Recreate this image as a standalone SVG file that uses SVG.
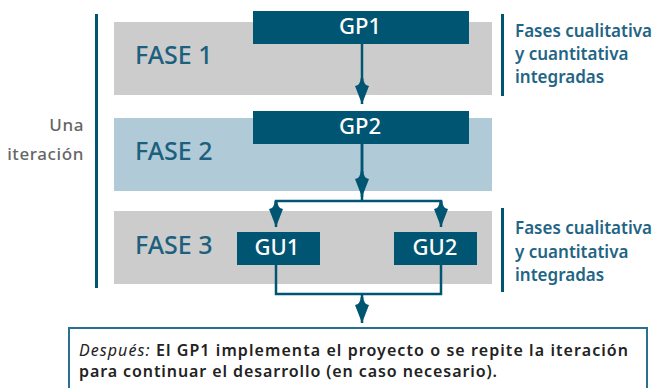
<svg xmlns="http://www.w3.org/2000/svg" width="659" height="388" viewBox="0 0 659 388">
  <style>
    .band-gray { fill: #cccccc; }
    .band-blue { fill: #b0cad7; }
    .box { fill: #005573; }
    .box-label { font-family: "Noto Sans", "DejaVu Sans", sans-serif; font-size: 22px; font-weight: 500; fill: #ffffff; text-anchor: middle; }
    .phase { font-family: "Noto Sans", "DejaVu Sans", sans-serif; font-size: 25px; font-weight: 500; fill: #1c5f7e; }
    .side { font-family: "Noto Sans", "DejaVu Sans", sans-serif; font-size: 17px; font-weight: 600; fill: #1f6585; }
    .iter { font-family: "Noto Sans", "DejaVu Sans", sans-serif; font-size: 17px; font-weight: 500; fill: #666666; text-anchor: end; letter-spacing: 0.6px; }
    .bar { stroke: #005573; stroke-width: 3; fill: none; }
    .conn { stroke: #005573; stroke-width: 2.5; fill: none; }
    .note-box { fill: #ffffff; stroke: #2a7090; stroke-width: 2; }
    .note { font-family: "Noto Sans", "DejaVu Sans", sans-serif; font-size: 16px; fill: #222222; font-weight: 600; }
    .note-em { font-style: italic; font-weight: normal; }
  </style>
  <defs>
    <!-- barbed arrowhead with concave back, tip at the line end -->
    <marker id="head" viewBox="0 -7 26 14" refX="26" refY="0" markerWidth="26" markerHeight="14" markerUnits="userSpaceOnUse" orient="auto">
      <path d="M0,-1.3 Q7,-1.5 8,-7 L26,0 L8,7 Q7,1.5 0,1.3 Z" fill="#005573"/>
    </marker>
  </defs>

  <!-- "Una iteración" bracket -->
  <g id="iteration">
    <line class="bar" x1="96.5" y1="14" x2="96.5" y2="288"/>
    <text class="iter" x="84" y="131">Una</text>
    <text class="iter" x="84" y="160">iteración</text>
  </g>

  <!-- Phase bands -->
  <g id="fase1">
    <rect class="band-gray" x="114" y="22" width="378" height="73"/>
    <text class="phase" x="135" y="64">FASE 1</text>
  </g>
  <g id="fase2">
    <rect class="band-blue" x="114" y="118" width="378" height="73"/>
    <text class="phase" x="135" y="160">FASE 2</text>
  </g>
  <g id="fase3">
    <rect class="band-gray" x="114" y="211" width="378" height="73"/>
    <text class="phase" x="135" y="254">FASE 3</text>
  </g>

  <!-- Group boxes -->
  <g id="gp1">
    <rect class="box" x="253" y="11" width="216" height="33"/>
    <text class="box-label" x="360" y="34">GP1</text>
  </g>
  <g id="gp2">
    <rect class="box" x="253" y="111" width="216" height="33"/>
    <text class="box-label" x="360" y="134">GP2</text>
  </g>
  <g id="gu1">
    <rect class="box" x="237" y="232" width="83" height="33"/>
    <text class="box-label" x="277" y="255">GU1</text>
  </g>
  <g id="gu2">
    <rect class="box" x="394" y="232" width="83" height="33"/>
    <text class="box-label" x="435" y="255">GU2</text>
  </g>

  <!-- Side notes -->
  <g id="note-top">
    <line class="bar" x1="502.5" y1="14" x2="502.5" y2="96"/>
    <text class="side" x="515" y="37">Fases cualitativa</text>
    <text class="side" x="515" y="60">y cuantitativa</text>
    <text class="side" x="515" y="83">integradas</text>
  </g>
  <g id="note-bottom">
    <line class="bar" x1="502.5" y1="208" x2="502.5" y2="292"/>
    <text class="side" x="515" y="234">Fases cualitativa</text>
    <text class="side" x="515" y="258">y cuantitativa</text>
    <text class="side" x="515" y="281">integradas</text>
  </g>

  <!-- Connectors -->
  <g id="connectors">
    <line class="conn" x1="362" y1="44" x2="362" y2="104" marker-end="url(#head)"/>
    <line class="conn" x1="362" y1="144" x2="362" y2="201"/>
    <line class="conn" x1="362" y1="144" x2="362" y2="197" marker-end="url(#head)"/>
    <polyline class="conn" points="276,205 276,201 441,201 441,205"/>
    <line class="conn" x1="276" y1="201" x2="276" y2="227" marker-end="url(#head)"/>
    <line class="conn" x1="441" y1="201" x2="441" y2="227" marker-end="url(#head)"/>
    <polyline class="conn" points="276,265 276,294 441,294 441,265"/>
    <line class="conn" x1="362" y1="294" x2="362" y2="323" marker-end="url(#head)"/>
  </g>

  <!-- Closing note -->
  <g id="after">
    <rect class="note-box" x="69" y="328" width="578" height="64"/>
    <text class="note" x="79" y="356" textLength="549" lengthAdjust="spacing"><tspan class="note-em">Después:</tspan> El GP1 implementa el proyecto o se repite la iteración</text>
    <text class="note" x="79" y="377" textLength="418" lengthAdjust="spacing">para continuar el desarrollo (en caso necesario).</text>
  </g>
</svg>
